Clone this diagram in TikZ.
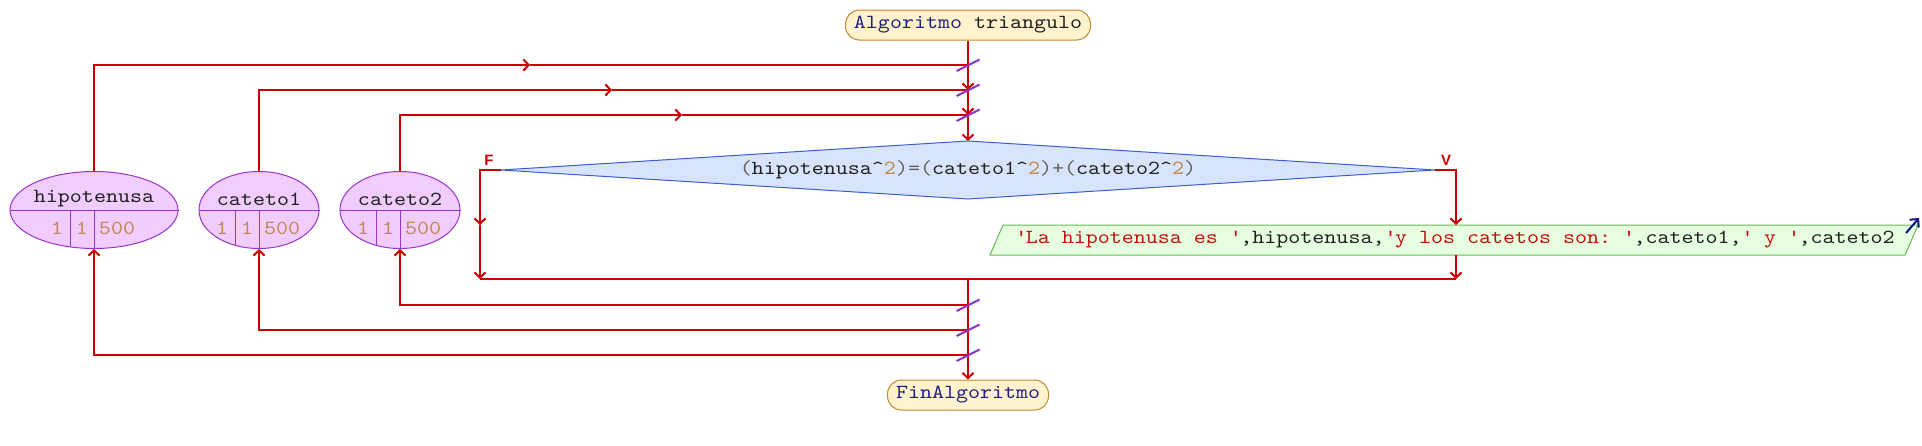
\documentclass[tikz,border=0pt]{standalone}
\usepackage{fontspec}
\setmonofont{Latin Modern Mono}[FakeStretch=1.143]
\setsansfont{Liberation Sans}
\usetikzlibrary{arrows.meta,shapes.geometric}
\definecolor{flowred}{HTML}{CC0000}
\definecolor{slashpurple}{HTML}{8833CC}
\definecolor{termborder}{HTML}{C08A30}
\definecolor{termfill}{HTML}{FFF2CC}
\definecolor{varborder}{HTML}{9933CC}
\definecolor{varfill}{HTML}{F0CCFF}
\definecolor{condborder}{HTML}{3A5FCD}
\definecolor{condfill}{HTML}{D8E4FC}
\definecolor{outborder}{HTML}{66BB55}
\definecolor{outfill}{HTML}{E6FFE0}
\definecolor{kwnavy}{HTML}{202080}
\definecolor{txtdark}{HTML}{202020}
\definecolor{numbrown}{HTML}{C08850}
\definecolor{opgray}{HTML}{606060}
\definecolor{strred}{HTML}{C01010}
\definecolor{navyarrow}{HTML}{101080}
\newcommand\codefont{\ttfamily\fontsize{10pt}{12pt}\selectfont}
\newcommand\opc[1]{\textcolor{opgray}{#1}}
\newcommand\numc[1]{\textcolor{numbrown}{#1}}
\newcommand\strc[1]{\textcolor{strred}{#1}}
\begin{document}
\begin{tikzpicture}[x=0.5pt,y=-0.5pt,
  flow/.style={draw=flowred, line width=1pt},
  arr/.style={flow, -{Straight Barb[length=2.6pt,width=5.5pt]}},
  slashmark/.style={draw=slashpurple, line width=1pt},
  term/.style={draw=termborder, fill=termfill, line width=0.5pt, rounded corners=7pt,
    minimum height=15pt, inner sep=0pt, font=\codefont},
  var/.style={ellipse, draw=varborder, fill=varfill, line width=0.5pt,
    minimum height=38.5pt, inner sep=0pt},
  divider/.style={draw=varborder, line width=0.5pt},
  code/.style={font=\codefont, inner sep=0pt},
  condst/.style={draw=condborder, fill=condfill, line width=0.5pt},
  outst/.style={draw=outborder, fill=outfill, line width=0.5pt},
  lbl/.style={font=\sffamily\bfseries\fontsize{7.5pt}{8pt}\selectfont, text=flowred, inner sep=0pt}
]
\useasboundingbox (0,0) rectangle (1922,445);

% coordinates
\coordinate (j1) at (968,65);
\coordinate (j2) at (968,90);
\coordinate (j3) at (968,115);
\coordinate (dT) at (968,141);
\coordinate (dL) at (501,170);
\coordinate (dR) at (1435,170);
\coordinate (dB) at (968,199);
\coordinate (lC) at (480,170);
\coordinate (lM) at (480,225);
\coordinate (lB) at (480,279);
\coordinate (rC) at (1456,170);
\coordinate (oT) at (1456,225);
\coordinate (oB) at (1456,255);
\coordinate (rB) at (1456,279);
\coordinate (mg) at (968,279);
\coordinate (j4) at (968,305);
\coordinate (j5) at (968,330);
\coordinate (j6) at (968,355);
\coordinate (m1) at (530,65);
\coordinate (m2) at (612,90);
\coordinate (m3) at (682,115);
\coordinate (oa1) at (1906,233);
\coordinate (oa2) at (1919,218);

% terminals
\node[term, minimum width=122.5pt] (start) at (968,25)
  {\textcolor{kwnavy}{Algoritmo} \textcolor{txtdark}{triangulo}};
\node[term, minimum width=80.5pt] (fin) at (968,395)
  {\textcolor{kwnavy}{FinAlgoritmo}};

% variables
\node[var, minimum width=84pt] (hip) at (94,210) {};
\node[var, minimum width=60pt] (ca1) at (259,210) {};
\node[var, minimum width=60pt] (ca2) at (400,210) {};
\draw[divider] (hip.west) -- (hip.east);
\draw[divider] (ca1.west) -- (ca1.east);
\draw[divider] (ca2.west) -- (ca2.east);
\draw[divider] ([xshift=-12pt]hip.center) -- +(0,36.9);
\draw[divider] (hip.center) -- (hip.south);
\draw[divider] ([xshift=-12pt]ca1.center) -- +(0,35.3);
\draw[divider] (ca1.center) -- (ca1.south);
\draw[divider] ([xshift=-12pt]ca2.center) -- +(0,35.3);
\draw[divider] (ca2.center) -- (ca2.south);
\node[code, text=txtdark] (hipn) at (94,199) {hipotenusa};
\node[code, text=txtdark] (ca1n) at (259,199) {cateto1};
\node[code, text=txtdark] (ca2n) at (400,199) {cateto2};
\foreach \v/\cx in {hip/94, ca1/259, ca2/400} {
  \node[code, text=numbrown] (\v a) at (\cx-37,228) {1};
  \node[code, text=numbrown] (\v b) at (\cx-12,228) {1};
  \node[code, text=numbrown] (\v c) at (\cx+23,228) {500};
}

% condition
\draw[condst] (dT) -- (dR) -- (dB) -- (dL) -- cycle;
\node[code, text=txtdark] (condtext) at (968,170)
  {\opc{(}hipotenusa\textasciicircum\numc{2}\opc{)=(}cateto1\textasciicircum\numc{2}\opc{)+(}cateto2\textasciicircum\numc{2}\opc{)}};
\node[lbl] (fl) at (489,160) {F};
\node[lbl] (vl) at (1446,160) {V};

% output
\draw[outst] (990,255) -- (1003,225) -- (1918,225) -- (1905,255) -- cycle;
\node[code, text=txtdark] (outtext) at (1455,240)
  {\strc{\textquotesingle La hipotenusa es \textquotesingle},hipotenusa,\strc{\textquotesingle y los catetos son: \textquotesingle},cateto1,\strc{\textquotesingle{} y \textquotesingle},cateto2};
\draw[draw=navyarrow, line width=1pt, -{Straight Barb[length=3pt,width=6pt]}] (oa1) -- (oa2);

% top loops
\draw[arr] (hip.north) |- (m1);
\draw[flow] (m1) -- (j1);
\draw[arr] (ca1.north) |- (m2);
\draw[flow] (m2) -- (j2);
\draw[arr] (ca2.north) |- (m3);
\draw[flow] (m3) -- (j3);

% main line
\draw[flow] (start.south) -- (j1);
\draw[arr] (j1) -- (j2);
\draw[arr] (j2) -- (j3);
\draw[arr] (j3) -- (dT);

% branches
\draw[arr] (dL) -- (lC) -- (lM);
\draw[arr] (lM) -- (lB);
\draw[flow] (lB) -- (rB);
\draw[arr] (dR) -- (rC) -- (oT);
\draw[arr] (oB) -- (rB);

% bottom
\draw[flow] (mg) -- (j4) -- (j5) -- (j6);
\draw[arr] (j6) -- (fin.north);
\draw[arr] (j4) -| (ca2.south);
\draw[arr] (j5) -| (ca1.south);
\draw[arr] (j6) -| (hip.south);

% junction slashes
\foreach \j in {j1,j2,j3,j4,j5,j6}
  \draw[slashmark] ([shift={(-11.5,6)}]\j) -- ([shift={(11.5,-5.5)}]\j);
\end{tikzpicture}
\end{document}
